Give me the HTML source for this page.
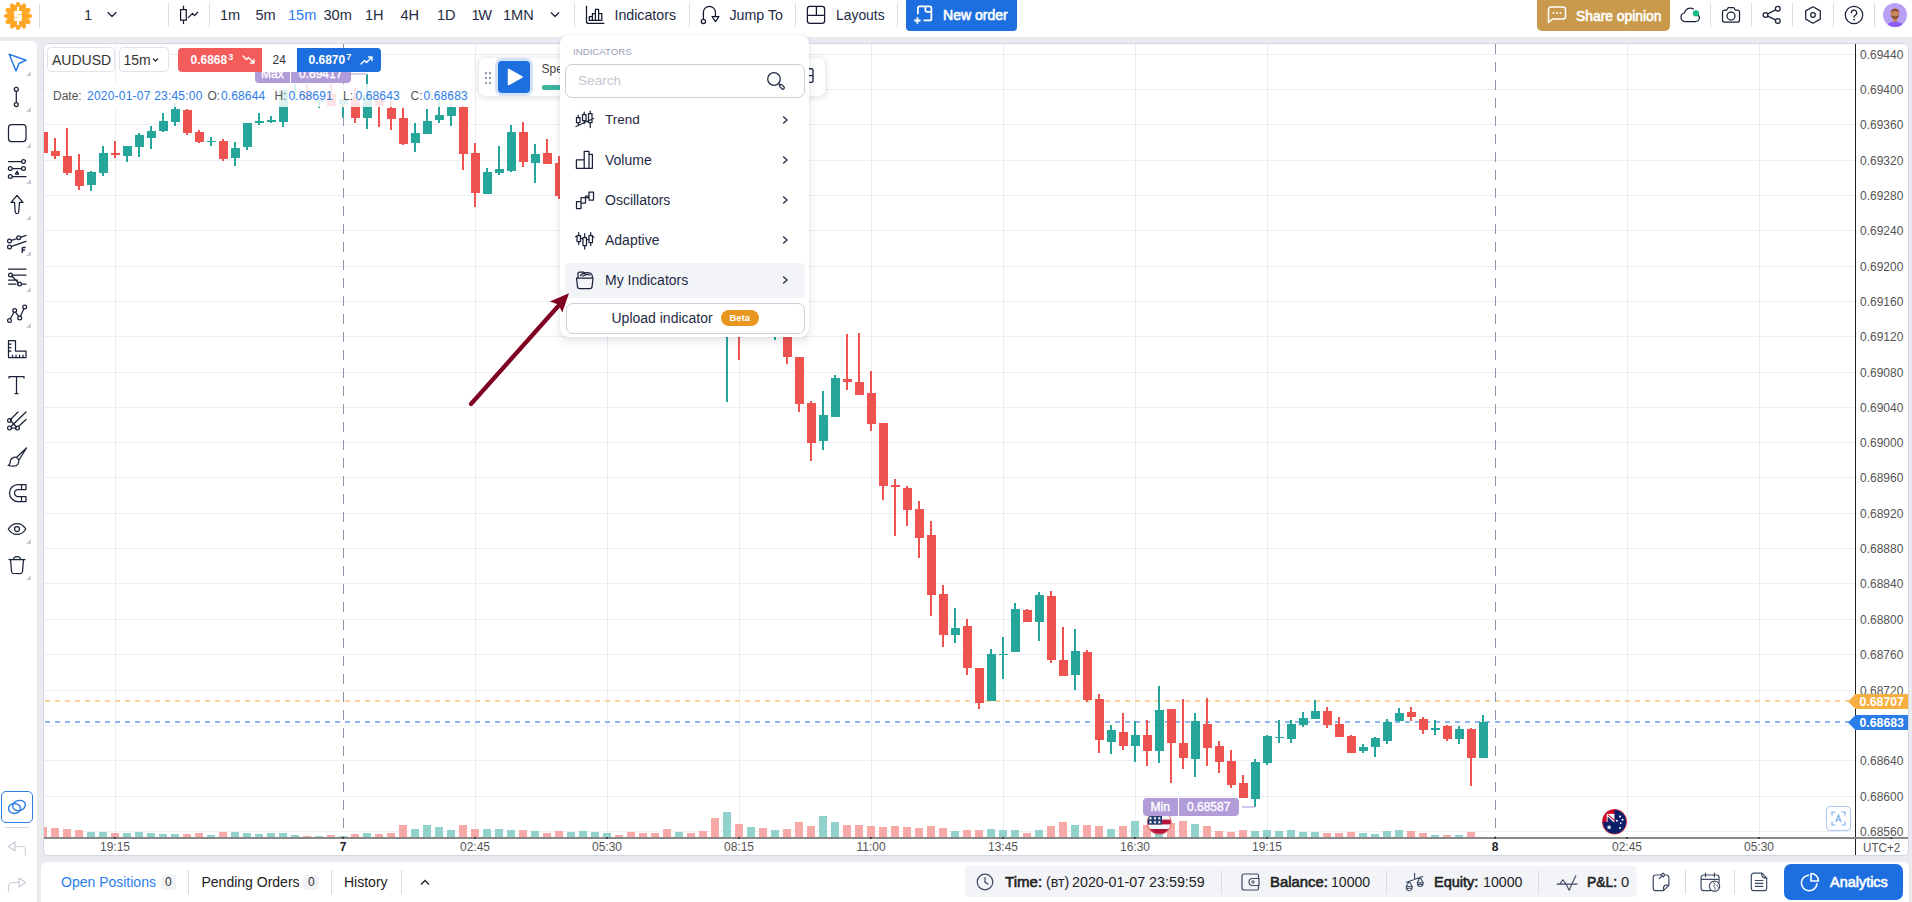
<!DOCTYPE html>
<html><head><meta charset="utf-8"><title>Chart</title>
<style>
*{box-sizing:border-box;margin:0;padding:0}
html,body{width:1912px;height:902px;overflow:hidden}
body{background:#e9ebf1;font-family:"Liberation Sans",sans-serif;color:#1f2a44;position:relative;font-size:14px}
.abs{position:absolute}
.t{position:absolute;white-space:nowrap;line-height:1}
.dv{position:absolute;width:1px;background:#d9dce4}
svg{position:absolute;overflow:visible}
.ic{fill:none;stroke:#1a2238;stroke-width:1.25;stroke-linecap:round;stroke-linejoin:round}
#top{position:absolute;left:0;top:0;width:1912px;height:37px;background:#fff}
#top .t{top:8px;font-size:14.6px;color:#1f2a44}
#side{position:absolute;left:0;top:41px;width:37px;height:861px;background:#fff;border-top-right-radius:6px}
#chart{position:absolute;left:43px;top:43px;width:1866px;height:813px;background:#fff;border-radius:5px;border:1px solid #d3d8e3}
#bottom{position:absolute;left:41px;top:862px;width:1867.500px;height:40px;background:#fff;border-radius:6px 6px 0 0}
.pl{position:absolute;left:1860px;font-size:12px;line-height:14px;color:#555;white-space:nowrap}
.tl{position:absolute;top:840px;width:60px;text-align:center;font-size:12px;line-height:14px;color:#555;white-space:nowrap}
.corner{position:absolute;left:26px;width:0;height:0;border-style:solid;border-width:0 0 5.5px 5.5px;border-color:transparent transparent #c9cdd8 transparent}
.mi{position:absolute;left:605px;font-size:14px;color:#1f2a44;line-height:16px;white-space:nowrap}
.chev{position:absolute;left:781px}
</style></head><body>

<!-- ================= TOP BAR ================= -->
<div id="top">
  <!-- logo -->
  <svg style="left:3px;top:1px" width="30" height="30" viewBox="-15 -15 30 30">
    <g fill="#ffa726" stroke="#ffa726" stroke-width=".9" stroke-linejoin="round">
      <circle r="10.6"></circle>
      <path transform="rotate(0)" d="M-2.300 -10.300L-1.100 -13.500H1.100L2.300 -10.300z"></path><path transform="rotate(30)" d="M-2.300 -10.300L-1.100 -13.500H1.100L2.300 -10.300z"></path><path transform="rotate(60)" d="M-2.300 -10.300L-1.100 -13.500H1.100L2.300 -10.300z"></path><path transform="rotate(90)" d="M-2.300 -10.300L-1.100 -13.500H1.100L2.300 -10.300z"></path><path transform="rotate(120)" d="M-2.300 -10.300L-1.100 -13.500H1.100L2.300 -10.300z"></path><path transform="rotate(150)" d="M-2.300 -10.300L-1.100 -13.500H1.100L2.300 -10.300z"></path><path transform="rotate(180)" d="M-2.300 -10.300L-1.100 -13.500H1.100L2.300 -10.300z"></path><path transform="rotate(210)" d="M-2.300 -10.300L-1.100 -13.500H1.100L2.300 -10.300z"></path><path transform="rotate(240)" d="M-2.300 -10.300L-1.100 -13.500H1.100L2.300 -10.300z"></path><path transform="rotate(270)" d="M-2.300 -10.300L-1.100 -13.500H1.100L2.300 -10.300z"></path><path transform="rotate(300)" d="M-2.300 -10.300L-1.100 -13.500H1.100L2.300 -10.300z"></path><path transform="rotate(330)" d="M-2.300 -10.300L-1.100 -13.500H1.100L2.300 -10.300z"></path>
    </g>
    <rect x="-3.800" y="-5" width="7.600" height="9.900" fill="#fff"></rect>
    <rect x="-1" y="-9.300" width="2" height="18.300" fill="#fff"></rect>
    <rect x=".1" y="-2" width="3.700" height=".7" fill="#ffa726"></rect>
    <rect x="-3.800" y="1.200" width="3.700" height=".7" fill="#ffa726"></rect>
  </svg>
  <div class="dv" style="left:39px;top:4px;height:24px"></div>
  <div class="t" style="left:84px">1</div>
  <svg style="left:107px;top:11px" width="10" height="8" viewBox="0 0 10 8"><path class="ic" d="M1 1.5L5 5.5L9 1.5"></path></svg>
  <div class="dv" style="left:168px;top:3px;height:24px"></div>
  <!-- candle type icon -->
  <svg style="left:178px;top:4px" width="22" height="24" viewBox="0 0 22 24"><path d="M2.600 5.500h5.700v10.700h-5.700zM5.500 2.200v3.300M5.500 16.200v3.400M10.300 13.600l4.200-4.300 2 2.300 3.200-3.300" fill="none" stroke="#141a2e" stroke-width="1.250" stroke-linecap="round" stroke-linejoin="miter"></path></svg>
  <div class="dv" style="left:209px;top:3px;height:24px"></div>
  <div class="t" style="left:220px">1m</div>
  <div class="t" style="left:255.500px">5m</div>
  <div class="t" style="left:288px;color:#2b7de9">15m</div>
  <div class="t" style="left:323.500px">30m</div>
  <div class="t" style="left:365px">1H</div>
  <div class="t" style="left:400.500px">4H</div>
  <div class="t" style="left:437px">1D</div>
  <div class="t" style="left:471.500px;letter-spacing:-1.3px">1W</div>
  <div class="t" style="left:503px">1MN</div>
  <svg style="left:550px;top:11px" width="10" height="8" viewBox="0 0 10 8"><path class="ic" d="M1.200 1.800L5 5.500L8.800 1.800"></path></svg>
  <div class="dv" style="left:574px;top:3px;height:24px"></div>
  <!-- indicators icon -->
  <svg style="left:585px;top:5px" width="20" height="20" viewBox="0 0 20 20"><path d="M1.500 1.200v15.200a2 2 0 0 0 2 2h15.300M4.300 15.400v-3.900h3.100v3.900zM7.400 11.500v-3h3v6.900h-3M10.400 8.500v-4.100h3.200v11h-3.200M13.600 8.500h3.200v6.900h-3.200" fill="none" stroke="#141a2e" stroke-width="1.250" stroke-linecap="round" stroke-linejoin="round"></path></svg>
  <div class="t" style="left:614.500px;font-size:14.2px;top:8.4px">Indicators</div>
  <div class="dv" style="left:689px;top:3px;height:24px"></div>
  <!-- jump icon -->
  <svg style="left:699px;top:4px" width="22" height="22" viewBox="0 0 22 22"><path d="M4.400 15.100v-6.700a6 6 0 0 1 12 0v3.900M13 12.500h7l-3.500 5.100z" fill="none" stroke="#141a2e" stroke-width="1.250" stroke-linejoin="round"></path><circle cx="4.400" cy="17.500" r="2.100" fill="none" stroke="#141a2e" stroke-width="1.250"></circle></svg>
  <div class="t" style="left:729.500px;font-size:14.2px;top:8.4px">Jump To</div>
  <div class="dv" style="left:795px;top:3px;height:24px"></div>
  <!-- layouts icon -->
  <svg style="left:806px;top:5px" width="20" height="20" viewBox="0 0 20 20"><rect x="1.400" y="1.400" width="17.200" height="17" rx="2.600" fill="none" stroke="#141a2e" stroke-width="1.250"></rect><path d="M1.400 10.400h17.200M10.400 1.400v9" fill="none" stroke="#141a2e" stroke-width="1.250"></path></svg>
  <div class="t" style="left:836px;font-size:13.9px;top:8.6px">Layouts</div>
  <div class="dv" style="left:897px;top:3px;height:24px"></div>
  <!-- new order -->
  <div class="abs" style="left:906px;top:0;width:111px;height:31px;background:#1d6fe0;border-radius:0 0 4px 4px"></div>
  <svg style="left:913px;top:5px" width="20" height="20" viewBox="0 0 20 20"><path d="M4.900 9.300v-6.300a1.700 1.700 0 0 1 1.700-1.700h10.100a1.700 1.700 0 0 1 1.700 1.700v10.700a1.700 1.700 0 0 1 -1.700 1.700h-6.200M12.400 1.500v3.700a1.700 1.700 0 0 0 1.700 1.700h4M1.200 15.500h6.400M4.400 12.300v6.400" fill="none" stroke="#fff" stroke-width="1.800" stroke-linejoin="round"></path></svg>
  <div class="t" style="color: rgb(255, 255, 255); -webkit-text-stroke: 0.6px rgb(255, 255, 255); font-size: 14.2px; top: 7.6px; left: 942.99px; transform: scaleX(0.9888); transform-origin: 0px 0px;">New order</div>
  <!-- share opinion -->
  <div class="abs" style="left:1537px;top:0;width:133px;height:31px;background:#c99a4c;border-radius:0 0 5px 5px"></div>
  <svg style="left:1547px;top:5px" width="20" height="20" viewBox="0 0 20 20"><path d="M1.500 17.500v-13a2.500 2.500 0 0 1 2.500-2.500h12a2.500 2.500 0 0 1 2.500 2.500v7a2.500 2.500 0 0 1 -2.500 2.500h-10.500z" fill="none" stroke="#fff" stroke-width="1.500" stroke-linejoin="round"></path><g fill="#fff"><circle cx="6.500" cy="8" r="1"></circle><circle cx="10" cy="8" r="1"></circle><circle cx="13.500" cy="8" r="1"></circle></g></svg>
  <div class="t" style="color: rgb(255, 255, 255); -webkit-text-stroke: 0.6px rgb(255, 255, 255); font-size: 14.2px; top: 8.6px; left: 1576.29px; transform: scaleX(0.9755); transform-origin: 0px 0px;">Share opinion</div>
  <!-- cloud -->
  <svg style="left:1679px;top:5px" width="22" height="20" viewBox="0 0 22 20"><path class="ic" d="M6 16.500a4.300 4.300 0 0 1 -.6 -8.500a6 6 0 0 1 9 -4M19.300 10.300a3.600 3.600 0 0 1 -2.300 6.200h-11"></path><circle cx="17" cy="8.300" r="3.100" fill="#10b981"></circle></svg>
  <div class="dv" style="left:1710px;top:3px;height:24px"></div>
  <!-- camera -->
  <svg style="left:1721px;top:5px" width="20" height="20" viewBox="0 0 20 20"><path class="ic" d="M1.500 7a2 2 0 0 1 2-2h2.300l1.500-2.500h5.400l1.500 2.500h2.300a2 2 0 0 1 2 2v8a2 2 0 0 1 -2 2h-13a2 2 0 0 1 -2-2z"></path><circle class="ic" cx="10" cy="11" r="4"></circle></svg>
  <div class="dv" style="left:1751px;top:3px;height:24px"></div>
  <!-- share -->
  <svg style="left:1762px;top:5px" width="20" height="20" viewBox="0 0 20 20"><path class="ic" d="M5.700 8.900l7.900-4M5.700 11.100l7.900 3.800"></path><circle class="ic" cx="15.800" cy="3.800" r="2.400"></circle><circle class="ic" cx="3.500" cy="10" r="2.400"></circle><circle class="ic" cx="15.800" cy="15.900" r="2.400"></circle></svg>
  <div class="dv" style="left:1792px;top:3px;height:24px"></div>
  <!-- hexagon -->
  <svg style="left:1803px;top:5px" width="20" height="20" viewBox="0 0 20 20"><path class="ic" d="M10 1.800l7.300 4.100v8.200l-7.300 4.100l-7.300-4.100v-8.200z"></path><circle class="ic" cx="10" cy="10" r="2.300"></circle></svg>
  <div class="dv" style="left:1833px;top:3px;height:24px"></div>
  <!-- help -->
  <svg style="left:1844px;top:5px" width="20" height="20" viewBox="0 0 20 20"><circle class="ic" cx="10" cy="10" r="8.700"></circle><path class="ic" d="M7.300 7.800a2.700 2.700 0 1 1 4 2.400c-.9.500-1.300 1-1.300 2"></path><circle cx="10" cy="14.600" r=".9" fill="#1f2a44"></circle></svg>
  <div class="dv" style="left:1874px;top:3px;height:24px"></div>
  <!-- avatar -->
  <svg style="left:1883px;top:3px" width="24" height="24" viewBox="0 0 24 24"><defs><clipPath id="av"><circle cx="12" cy="12" r="12"></circle></clipPath></defs><g clip-path="url(#av)"><rect width="24" height="24" fill="#b8a1f5"></rect><ellipse cx="12" cy="24" rx="8.500" ry="5.500" fill="#8b5cf6"></ellipse><rect x="10" y="14" width="4" height="5" fill="#c68863"></rect><ellipse cx="12" cy="10.500" rx="4.300" ry="5.300" fill="#c68863"></ellipse><path d="M7.700 9.500c0-5 8.600-5 8.600 0c-1.500-2-7-2-8.600 0z" fill="#8a4b2a"></path><path d="M8 11.500c0 6 8 6 8 0c-1 2.500-7 2.500-8 0z" fill="#8a4b2a"></path></g></svg>
</div>

<!-- ================= SIDEBAR ================= -->
<div id="side">
  <!-- y offsets relative to side top (41) -->
  <svg style="left:6px;top:10px" width="24" height="24" viewBox="0 0 24 24"><path d="M3.200 3.200L20 9.200L13 12.500L10 20z" fill="none" stroke="#2b7de9" stroke-width="1.500" stroke-linejoin="round"></path></svg>
  <div class="corner" style="top:30px"></div>
  <svg style="left:6px;top:44px" width="24" height="24" viewBox="0 0 24 24"><path class="ic" d="M10.300 6.500v11"></path><circle class="ic" cx="10.300" cy="4.300" r="2"></circle><circle class="ic" cx="10.300" cy="19.500" r="2"></circle></svg>
  <div class="corner" style="top:66px"></div>
  <svg style="left:6px;top:80px" width="24" height="24" viewBox="0 0 24 24"><rect class="ic" x="2.500" y="3.500" width="17.500" height="17" rx="3"></rect></svg>
  <div class="corner" style="top:102px"></div>
  <svg style="left:6px;top:116px" width="24" height="24" viewBox="0 0 24 24"><path class="ic" d="M2.500 4.500h12.500M6.500 11.500h9M6.500 19.500h13.500M9.500 17l1.600-2.600 1.600 2.600z"></path><circle class="ic" cx="17.500" cy="4.500" r="1.900"></circle><circle class="ic" cx="4.300" cy="11.500" r="1.900"></circle><circle class="ic" cx="17.500" cy="11.500" r="1.900"></circle><circle class="ic" cx="4.300" cy="19.500" r="1.900"></circle></svg>
  <div class="corner" style="top:138px"></div>
  <svg style="left:6px;top:152px" width="24" height="24" viewBox="0 0 24 24"><path class="ic" d="M11 2.500l6 6.800h-3.500l-.7 9.500a1.800 1.800 0 0 1 -3.600 0l-.7-9.500h-3.500z"></path></svg>
  <div class="corner" style="top:174px"></div>
  <svg style="left:6px;top:188px" width="24" height="24" viewBox="0 0 24 24"><path class="ic" d="M5.500 11.300l5.500-1.800M14.500 8.300l5.500-2M5.500 17.300l14.500-5"></path><circle class="ic" cx="3.500" cy="12" r="1.900"></circle><circle class="ic" cx="12.700" cy="8.800" r="1.900"></circle><circle class="ic" cx="3.500" cy="18" r="1.900"></circle><path d="M16.300 18.500v5.500M16.300 18.500h3.400M16.300 21h2.600" fill="none" stroke="#1f2a44" stroke-width="1.500"></path></svg>
  <div class="corner" style="top:210px"></div>
  <svg style="left:6px;top:224px" width="24" height="24" viewBox="0 0 24 24"><path class="ic" d="M2.500 4h17.500M6.500 10h13.500M2.500 15h9M2.500 19h7.500M15.500 19h4.500M5.800 11l6.700 7"></path><circle class="ic" cx="4.500" cy="10" r="1.900"></circle><circle class="ic" cx="13.500" cy="19" r="1.900"></circle></svg>
  <div class="corner" style="top:246px"></div>
  <svg style="left:6px;top:260px" width="24" height="24" viewBox="0 0 24 24"><path class="ic" d="M4.500 17.500l3.500-6.500M9.800 11.500l3 4M14.500 15l3.300-7"></path><circle class="ic" cx="3.500" cy="19.500" r="1.900"></circle><circle class="ic" cx="8.700" cy="9.500" r="1.900"></circle><circle class="ic" cx="13.700" cy="17" r="1.900"></circle><circle class="ic" cx="18.700" cy="6" r="1.900"></circle></svg>
  <div class="corner" style="top:282px"></div>
  <!-- ruler -->
  <svg style="left:6px;top:296px" width="24" height="24" viewBox="0 0 24 24"><path class="ic" d="M2.500 3.500h7v10.500h10.500v6.500h-17.500zM2.500 7h2.500M2.500 10.500h2.500M2.500 14h2.500M6.500 20.500v-2.500M10 20.500v-2.500M13.500 20.500v-2.500M17 20.500v-2.500"></path></svg>
  <!-- T -->
  <svg style="left:6px;top:332px" width="24" height="24" viewBox="0 0 24 24"><path class="ic" d="M3 5v-1.500h15v1.500M10.500 3.500v17M9 20.500h3"></path></svg>
  <!-- fan -->
  <svg style="left:6px;top:368px" width="24" height="24" viewBox="0 0 24 24"><path class="ic" d="M4.500 10.500l7.500-7.500M5 17.500l15-14.500M4.500 11.500l6 6.500M5.500 19h4.500M12.500 17.500l7.500-7"></path><circle class="ic" cx="3.500" cy="11.500" r="1.900"></circle><circle class="ic" cx="3.500" cy="19" r="1.900"></circle><circle class="ic" cx="11.500" cy="19" r="1.900"></circle></svg>
  <!-- brush -->
  <svg style="left:6px;top:404px" width="24" height="24" viewBox="0 0 24 24"><path class="ic" d="M20.500 3l-10 9.500M20.500 3l-7.500 12M2 20.500c2.500-.5 2-3 2.500-5s3.500-4 6-3 3 4 1.500 6.500-6 2.500-10 1.500z"></path></svg>
  <!-- magnet -->
  <svg style="left:6px;top:440px" width="24" height="24" viewBox="0 0 24 24"><path class="ic" d="M20 3.500h-8a8.500 8.500 0 0 0 0 17h8v-5h-8a3.500 3.500 0 0 1 0-7h8zM15.500 3.500v5M15.500 15.500v5"></path></svg>
  <!-- eye -->
  <svg style="left:6px;top:476px" width="24" height="24" viewBox="0 0 24 24"><path class="ic" d="M2.300 12c4.500-7.300 13-7.300 17.500 0c-4.500 7.300-13 7.300-17.500 0z"></path><circle class="ic" cx="11" cy="12" r="2.500"></circle></svg>
  <div class="corner" style="top:498px"></div>
  <!-- trash -->
  <svg style="left:6px;top:512px" width="24" height="24" viewBox="0 0 24 24"><path class="ic" d="M3 6.500h16M7.500 6.500c0-4 7-4 7 0M4.500 6.500l1 12a2.500 2.500 0 0 0 2.500 2h6a2.500 2.500 0 0 0 2.500-2l1-12"></path></svg>
  <div class="corner" style="top:534px"></div>
  <!-- link box -->
  <div class="abs" style="left:1px;top:750px;width:32px;height:32px;border:1.500px solid #2b7de9;border-radius:5px"></div>
  <svg style="left:5px;top:754px" width="24" height="24" viewBox="0 0 24 24"><ellipse cx="9.500" cy="13.500" rx="6" ry="5" fill="none" stroke="#2b7de9" stroke-width="1.400"></ellipse><ellipse cx="14" cy="10.500" rx="6.500" ry="5" fill="none" stroke="#2b7de9" stroke-width="1.400" transform="rotate(-15 14 10.500)"></ellipse></svg>
  <div class="abs" style="left:5px;top:786px;width:24px;height:1px;background:#d3d7e0"></div>
  <!-- undo / redo -->
  <svg style="left:5px;top:796.800px" width="24" height="24" viewBox="0 0 24 24"><path d="M3.500 8.500l6.500-4.500v9zM10 8.500h6.500a4 4 0 0 1 4 4v5" fill="none" stroke="#c9cdd6" stroke-width="1.200" stroke-linejoin="round"></path></svg>
  <svg style="left:5px;top:832.700px" width="24" height="24" viewBox="0 0 24 24"><path d="M20.500 8.500l-6.500-4.500v9zM14 8.500h-6.500a4 4 0 0 0 -4 4v5" fill="none" stroke="#c9cdd6" stroke-width="1.200" stroke-linejoin="round"></path></svg>
</div>

<!-- ================= CHART ================= -->
<div id="chart"></div>
<svg style="left:0;top:0" width="1912" height="902" viewBox="0 0 1912 902" shape-rendering="crispEdges">
<defs><clipPath id="cc"><rect x="44" y="44" width="1811.500" height="794"></rect></clipPath></defs>
<g clip-path="url(#cc)">
<rect x="44" y="54" width="1811" height="1" fill="#eceef3"></rect>
<rect x="44" y="89" width="1811" height="1" fill="#eceef3"></rect>
<rect x="44" y="124" width="1811" height="1" fill="#eceef3"></rect>
<rect x="44" y="160" width="1811" height="1" fill="#eceef3"></rect>
<rect x="44" y="195" width="1811" height="1" fill="#eceef3"></rect>
<rect x="44" y="230" width="1811" height="1" fill="#eceef3"></rect>
<rect x="44" y="266" width="1811" height="1" fill="#eceef3"></rect>
<rect x="44" y="301" width="1811" height="1" fill="#eceef3"></rect>
<rect x="44" y="336" width="1811" height="1" fill="#eceef3"></rect>
<rect x="44" y="372" width="1811" height="1" fill="#eceef3"></rect>
<rect x="44" y="407" width="1811" height="1" fill="#eceef3"></rect>
<rect x="44" y="442" width="1811" height="1" fill="#eceef3"></rect>
<rect x="44" y="477" width="1811" height="1" fill="#eceef3"></rect>
<rect x="44" y="513" width="1811" height="1" fill="#eceef3"></rect>
<rect x="44" y="548" width="1811" height="1" fill="#eceef3"></rect>
<rect x="44" y="583" width="1811" height="1" fill="#eceef3"></rect>
<rect x="44" y="619" width="1811" height="1" fill="#eceef3"></rect>
<rect x="44" y="654" width="1811" height="1" fill="#eceef3"></rect>
<rect x="44" y="690" width="1811" height="1" fill="#eceef3"></rect>
<rect x="44" y="725" width="1811" height="1" fill="#eceef3"></rect>
<rect x="44" y="760" width="1811" height="1" fill="#eceef3"></rect>
<rect x="44" y="796" width="1811" height="1" fill="#eceef3"></rect>
<rect x="44" y="831" width="1811" height="1" fill="#eceef3"></rect>
<rect x="115" y="44" width="1" height="793" fill="#eceef3"></rect>
<rect x="475" y="44" width="1" height="793" fill="#eceef3"></rect>
<rect x="607" y="44" width="1" height="793" fill="#eceef3"></rect>
<rect x="739" y="44" width="1" height="793" fill="#eceef3"></rect>
<rect x="871" y="44" width="1" height="793" fill="#eceef3"></rect>
<rect x="1003" y="44" width="1" height="793" fill="#eceef3"></rect>
<rect x="1135" y="44" width="1" height="793" fill="#eceef3"></rect>
<rect x="1267" y="44" width="1" height="793" fill="#eceef3"></rect>
<rect x="1627" y="44" width="1" height="793" fill="#eceef3"></rect>
<rect x="1759" y="44" width="1" height="793" fill="#eceef3"></rect>
<path d="M44.5 701H1856" stroke="#f9d29c" stroke-width="2" stroke-dasharray="5 5" fill="none"></path>
<path d="M44.5 722H1856" stroke="#8cb6f6" stroke-width="2" stroke-dasharray="5 5" fill="none"></path>
<rect x="44" y="827" width="3" height="10" fill="#f7a9a7"></rect>
<rect x="51" y="828" width="8" height="9" fill="#f7a9a7"></rect>
<rect x="63" y="829" width="8" height="8" fill="#f7a9a7"></rect>
<rect x="75" y="830" width="8" height="7" fill="#f7a9a7"></rect>
<rect x="87" y="832" width="8" height="5" fill="#92d2cc"></rect>
<rect x="99" y="831.5" width="8" height="5.5" fill="#92d2cc"></rect>
<rect x="111" y="833" width="8" height="4" fill="#f7a9a7"></rect>
<rect x="123" y="833" width="8" height="4" fill="#92d2cc"></rect>
<rect x="135" y="831.5" width="8" height="5.5" fill="#92d2cc"></rect>
<rect x="147" y="832.5" width="8" height="4.5" fill="#92d2cc"></rect>
<rect x="159" y="834" width="8" height="3" fill="#92d2cc"></rect>
<rect x="171" y="834" width="8" height="3" fill="#92d2cc"></rect>
<rect x="183" y="834" width="8" height="3" fill="#f7a9a7"></rect>
<rect x="195" y="833" width="8" height="4" fill="#f7a9a7"></rect>
<rect x="207" y="835" width="8" height="2" fill="#92d2cc"></rect>
<rect x="219" y="832" width="8" height="5" fill="#f7a9a7"></rect>
<rect x="231" y="832" width="8" height="5" fill="#92d2cc"></rect>
<rect x="243" y="833" width="8" height="4" fill="#92d2cc"></rect>
<rect x="255" y="834" width="8" height="3" fill="#92d2cc"></rect>
<rect x="267" y="832.5" width="8" height="4.5" fill="#92d2cc"></rect>
<rect x="279" y="833" width="8" height="4" fill="#92d2cc"></rect>
<rect x="291" y="835" width="8" height="2" fill="#92d2cc"></rect>
<rect x="303" y="836" width="8" height="1" fill="#f7a9a7"></rect>
<rect x="315" y="835.5" width="8" height="1.5" fill="#92d2cc"></rect>
<rect x="327" y="835" width="8" height="2" fill="#f7a9a7"></rect>
<rect x="339" y="835.5" width="8" height="1.5" fill="#92d2cc"></rect>
<rect x="351" y="834" width="8" height="3" fill="#f7a9a7"></rect>
<rect x="363" y="833" width="8" height="4" fill="#92d2cc"></rect>
<rect x="375" y="834" width="8" height="3" fill="#f7a9a7"></rect>
<rect x="387" y="832.5" width="8" height="4.5" fill="#f7a9a7"></rect>
<rect x="399" y="824.5" width="8" height="12.5" fill="#f7a9a7"></rect>
<rect x="411" y="828.5" width="8" height="8.5" fill="#92d2cc"></rect>
<rect x="423" y="824.5" width="8" height="12.5" fill="#92d2cc"></rect>
<rect x="435" y="827" width="8" height="10" fill="#92d2cc"></rect>
<rect x="447" y="829.5" width="8" height="7.5" fill="#92d2cc"></rect>
<rect x="459" y="825" width="8" height="12" fill="#f7a9a7"></rect>
<rect x="471" y="829" width="8" height="8" fill="#f7a9a7"></rect>
<rect x="483" y="829" width="8" height="8" fill="#92d2cc"></rect>
<rect x="495" y="829" width="8" height="8" fill="#92d2cc"></rect>
<rect x="507" y="830" width="8" height="7" fill="#92d2cc"></rect>
<rect x="519" y="830" width="8" height="7" fill="#f7a9a7"></rect>
<rect x="531" y="830.5" width="8" height="6.5" fill="#92d2cc"></rect>
<rect x="543" y="832.5" width="8" height="4.5" fill="#f7a9a7"></rect>
<rect x="555" y="831" width="8" height="6" fill="#f7a9a7"></rect>
<rect x="567" y="832" width="8" height="5" fill="#92d2cc"></rect>
<rect x="579" y="831" width="8" height="6" fill="#92d2cc"></rect>
<rect x="591" y="831.5" width="8" height="5.5" fill="#92d2cc"></rect>
<rect x="603" y="833" width="8" height="4" fill="#92d2cc"></rect>
<rect x="615" y="835" width="8" height="2" fill="#f7a9a7"></rect>
<rect x="627" y="832" width="8" height="5" fill="#f7a9a7"></rect>
<rect x="639" y="833" width="8" height="4" fill="#f7a9a7"></rect>
<rect x="651" y="832.5" width="8" height="4.5" fill="#f7a9a7"></rect>
<rect x="663" y="829" width="8" height="8" fill="#f7a9a7"></rect>
<rect x="675" y="832" width="8" height="5" fill="#92d2cc"></rect>
<rect x="687" y="833" width="8" height="4" fill="#f7a9a7"></rect>
<rect x="699" y="831" width="8" height="6" fill="#f7a9a7"></rect>
<rect x="711" y="818" width="8" height="19" fill="#f7a9a7"></rect>
<rect x="723" y="812" width="8" height="25" fill="#92d2cc"></rect>
<rect x="735" y="824" width="8" height="13" fill="#f7a9a7"></rect>
<rect x="747" y="827" width="8" height="10" fill="#92d2cc"></rect>
<rect x="759" y="828" width="8" height="9" fill="#f7a9a7"></rect>
<rect x="771" y="830" width="8" height="7" fill="#92d2cc"></rect>
<rect x="783" y="829" width="8" height="8" fill="#f7a9a7"></rect>
<rect x="795" y="822" width="8" height="15" fill="#f7a9a7"></rect>
<rect x="807" y="826" width="8" height="11" fill="#f7a9a7"></rect>
<rect x="819" y="816" width="8" height="21" fill="#92d2cc"></rect>
<rect x="831" y="822" width="8" height="15" fill="#92d2cc"></rect>
<rect x="843" y="824.5" width="8" height="12.5" fill="#f7a9a7"></rect>
<rect x="855" y="825" width="8" height="12" fill="#f7a9a7"></rect>
<rect x="867" y="826" width="8" height="11" fill="#f7a9a7"></rect>
<rect x="879" y="826.5" width="8" height="10.5" fill="#f7a9a7"></rect>
<rect x="891" y="826" width="8" height="11" fill="#f7a9a7"></rect>
<rect x="903" y="827" width="8" height="10" fill="#f7a9a7"></rect>
<rect x="915" y="828" width="8" height="9" fill="#f7a9a7"></rect>
<rect x="927" y="825.5" width="8" height="11.5" fill="#f7a9a7"></rect>
<rect x="939" y="828" width="8" height="9" fill="#f7a9a7"></rect>
<rect x="951" y="831" width="8" height="6" fill="#92d2cc"></rect>
<rect x="963" y="830" width="8" height="7" fill="#f7a9a7"></rect>
<rect x="975" y="830" width="8" height="7" fill="#f7a9a7"></rect>
<rect x="987" y="829" width="8" height="8" fill="#92d2cc"></rect>
<rect x="999" y="830" width="8" height="7" fill="#92d2cc"></rect>
<rect x="1011" y="830" width="8" height="7" fill="#92d2cc"></rect>
<rect x="1023" y="832.5" width="8" height="4.5" fill="#f7a9a7"></rect>
<rect x="1035" y="830" width="8" height="7" fill="#92d2cc"></rect>
<rect x="1047" y="825.5" width="8" height="11.5" fill="#f7a9a7"></rect>
<rect x="1059" y="822" width="8" height="15" fill="#f7a9a7"></rect>
<rect x="1071" y="825" width="8" height="12" fill="#92d2cc"></rect>
<rect x="1083" y="825" width="8" height="12" fill="#f7a9a7"></rect>
<rect x="1095" y="826" width="8" height="11" fill="#f7a9a7"></rect>
<rect x="1107" y="829" width="8" height="8" fill="#92d2cc"></rect>
<rect x="1119" y="826" width="8" height="11" fill="#f7a9a7"></rect>
<rect x="1131" y="821" width="8" height="16" fill="#92d2cc"></rect>
<rect x="1143" y="825" width="8" height="12" fill="#f7a9a7"></rect>
<rect x="1155" y="823" width="8" height="14" fill="#92d2cc"></rect>
<rect x="1167" y="823" width="8" height="14" fill="#f7a9a7"></rect>
<rect x="1179" y="821" width="8" height="16" fill="#f7a9a7"></rect>
<rect x="1191" y="824" width="8" height="13" fill="#92d2cc"></rect>
<rect x="1203" y="826" width="8" height="11" fill="#f7a9a7"></rect>
<rect x="1215" y="831" width="8" height="6" fill="#f7a9a7"></rect>
<rect x="1227" y="832" width="8" height="5" fill="#f7a9a7"></rect>
<rect x="1239" y="830" width="8" height="7" fill="#f7a9a7"></rect>
<rect x="1251" y="831" width="8" height="6" fill="#92d2cc"></rect>
<rect x="1263" y="830" width="8" height="7" fill="#92d2cc"></rect>
<rect x="1275" y="831" width="8" height="6" fill="#92d2cc"></rect>
<rect x="1287" y="830" width="8" height="7" fill="#92d2cc"></rect>
<rect x="1299" y="832" width="8" height="5" fill="#92d2cc"></rect>
<rect x="1311" y="832" width="8" height="5" fill="#92d2cc"></rect>
<rect x="1323" y="833" width="8" height="4" fill="#f7a9a7"></rect>
<rect x="1335" y="833" width="8" height="4" fill="#f7a9a7"></rect>
<rect x="1347" y="832" width="8" height="5" fill="#f7a9a7"></rect>
<rect x="1359" y="833" width="8" height="4" fill="#92d2cc"></rect>
<rect x="1371" y="833.5" width="8" height="3.5" fill="#92d2cc"></rect>
<rect x="1383" y="830.5" width="8" height="6.5" fill="#92d2cc"></rect>
<rect x="1395" y="830" width="8" height="7" fill="#92d2cc"></rect>
<rect x="1407" y="831" width="8" height="6" fill="#f7a9a7"></rect>
<rect x="1419" y="833" width="8" height="4" fill="#f7a9a7"></rect>
<rect x="1431" y="835" width="8" height="2" fill="#92d2cc"></rect>
<rect x="1443" y="835" width="8" height="2" fill="#f7a9a7"></rect>
<rect x="1455" y="835" width="8" height="2" fill="#92d2cc"></rect>
<rect x="1467" y="831.5" width="8" height="5.5" fill="#f7a9a7"></rect>
<rect x="44" y="132.1" width="4" height="20.7" fill="#ef5350"></rect>
<rect x="54" y="138" width="2" height="20.9" fill="#ef5350"></rect>
<rect x="51" y="151.1" width="9" height="4.6" fill="#ef5350"></rect>
<rect x="66" y="128.1" width="2" height="46.9" fill="#ef5350"></rect>
<rect x="63" y="156" width="9" height="17" fill="#ef5350"></rect>
<rect x="78" y="154" width="2" height="35.9" fill="#ef5350"></rect>
<rect x="75" y="170" width="9" height="15.8" fill="#ef5350"></rect>
<rect x="90" y="171" width="2" height="19.9" fill="#26a69a"></rect>
<rect x="87" y="171.9" width="9" height="12.9" fill="#26a69a"></rect>
<rect x="102" y="145.9" width="2" height="30" fill="#26a69a"></rect>
<rect x="99" y="153" width="9" height="19.9" fill="#26a69a"></rect>
<rect x="114" y="140.9" width="2" height="17" fill="#ef5350"></rect>
<rect x="111" y="153" width="9" height="1.9" fill="#ef5350"></rect>
<rect x="126" y="145.9" width="2" height="15.9" fill="#26a69a"></rect>
<rect x="123" y="145.9" width="9" height="10" fill="#26a69a"></rect>
<rect x="138" y="133" width="2" height="24" fill="#26a69a"></rect>
<rect x="135" y="135" width="9" height="11.9" fill="#26a69a"></rect>
<rect x="150" y="126" width="2" height="23" fill="#26a69a"></rect>
<rect x="147" y="131.1" width="9" height="6.8" fill="#26a69a"></rect>
<rect x="162" y="113.1" width="2" height="18.9" fill="#26a69a"></rect>
<rect x="159" y="121" width="9" height="9.9" fill="#26a69a"></rect>
<rect x="174" y="103" width="2" height="22.9" fill="#26a69a"></rect>
<rect x="171" y="109" width="9" height="13" fill="#26a69a"></rect>
<rect x="186" y="108.9" width="2" height="26.1" fill="#ef5350"></rect>
<rect x="183" y="110" width="9" height="23" fill="#ef5350"></rect>
<rect x="198" y="130" width="2" height="12.9" fill="#ef5350"></rect>
<rect x="195" y="132" width="9" height="9.9" fill="#ef5350"></rect>
<rect x="210" y="137" width="2" height="9" fill="#26a69a"></rect>
<rect x="207" y="140.6" width="9" height="1.6" fill="#26a69a"></rect>
<rect x="222" y="139" width="2" height="21.9" fill="#ef5350"></rect>
<rect x="219" y="140.9" width="9" height="18" fill="#ef5350"></rect>
<rect x="234" y="142" width="2" height="23.8" fill="#26a69a"></rect>
<rect x="231" y="147.9" width="9" height="10" fill="#26a69a"></rect>
<rect x="246" y="123" width="2" height="26.8" fill="#26a69a"></rect>
<rect x="243" y="123" width="9" height="23.9" fill="#26a69a"></rect>
<rect x="258" y="113.3" width="2" height="11.5" fill="#26a69a"></rect>
<rect x="255" y="120.9" width="9" height="1.7" fill="#26a69a"></rect>
<rect x="270" y="116.1" width="2" height="6.8" fill="#26a69a"></rect>
<rect x="267" y="120.2" width="9" height="1.8" fill="#26a69a"></rect>
<rect x="282" y="88.9" width="2" height="37.9" fill="#26a69a"></rect>
<rect x="279" y="90.1" width="9" height="31.7" fill="#26a69a"></rect>
<rect x="294" y="83.5" width="2" height="17.9" fill="#26a69a"></rect>
<rect x="291" y="90.6" width="9" height="1.2" fill="#26a69a"></rect>
<rect x="306" y="85" width="2" height="14" fill="#ef5350"></rect>
<rect x="303" y="92" width="9" height="7" fill="#ef5350"></rect>
<rect x="318" y="96.4" width="2" height="11.3" fill="#26a69a"></rect>
<rect x="315" y="100" width="9" height="2" fill="#26a69a"></rect>
<rect x="330" y="83.6" width="2" height="22.2" fill="#ef5350"></rect>
<rect x="327" y="93.9" width="9" height="11.9" fill="#ef5350"></rect>
<rect x="342" y="98.9" width="2" height="18.8" fill="#26a69a"></rect>
<rect x="339" y="98.9" width="9" height="5" fill="#26a69a"></rect>
<rect x="354" y="88.2" width="2" height="34.6" fill="#ef5350"></rect>
<rect x="351" y="97.7" width="9" height="20" fill="#ef5350"></rect>
<rect x="366" y="74.4" width="2" height="54.2" fill="#26a69a"></rect>
<rect x="363" y="95.1" width="9" height="22.6" fill="#26a69a"></rect>
<rect x="378" y="97.7" width="2" height="28.9" fill="#ef5350"></rect>
<rect x="375" y="97.7" width="9" height="8.7" fill="#ef5350"></rect>
<rect x="390" y="101.4" width="2" height="28.4" fill="#ef5350"></rect>
<rect x="387" y="108.1" width="9" height="10.6" fill="#ef5350"></rect>
<rect x="402" y="108.1" width="2" height="36.7" fill="#ef5350"></rect>
<rect x="399" y="117.9" width="9" height="26.3" fill="#ef5350"></rect>
<rect x="414" y="122.9" width="2" height="28.9" fill="#26a69a"></rect>
<rect x="411" y="132.8" width="9" height="10" fill="#26a69a"></rect>
<rect x="426" y="109" width="2" height="24.8" fill="#26a69a"></rect>
<rect x="423" y="120.9" width="9" height="12.9" fill="#26a69a"></rect>
<rect x="438" y="100.2" width="2" height="22.5" fill="#26a69a"></rect>
<rect x="435" y="115" width="9" height="4.7" fill="#26a69a"></rect>
<rect x="450" y="104.1" width="2" height="21.6" fill="#26a69a"></rect>
<rect x="447" y="107" width="9" height="8.7" fill="#26a69a"></rect>
<rect x="462" y="105" width="2" height="64.7" fill="#ef5350"></rect>
<rect x="459" y="106.5" width="9" height="47.3" fill="#ef5350"></rect>
<rect x="474" y="142.8" width="2" height="63.9" fill="#ef5350"></rect>
<rect x="471" y="153.2" width="9" height="39.5" fill="#ef5350"></rect>
<rect x="486" y="167.7" width="2" height="26" fill="#26a69a"></rect>
<rect x="483" y="171.7" width="9" height="22" fill="#26a69a"></rect>
<rect x="498" y="145.8" width="2" height="29.3" fill="#26a69a"></rect>
<rect x="495" y="169.1" width="9" height="3.6" fill="#26a69a"></rect>
<rect x="510" y="124.8" width="2" height="46.9" fill="#26a69a"></rect>
<rect x="507" y="131.8" width="9" height="39.3" fill="#26a69a"></rect>
<rect x="522" y="121.8" width="2" height="44.9" fill="#ef5350"></rect>
<rect x="519" y="131.8" width="9" height="30" fill="#ef5350"></rect>
<rect x="534" y="143.8" width="2" height="38.9" fill="#26a69a"></rect>
<rect x="531" y="153.8" width="9" height="9" fill="#26a69a"></rect>
<rect x="546" y="138.8" width="2" height="24.9" fill="#ef5350"></rect>
<rect x="543" y="152.8" width="9" height="10.9" fill="#ef5350"></rect>
<rect x="558" y="155.8" width="2" height="42.9" fill="#ef5350"></rect>
<rect x="555" y="162.8" width="9" height="32.9" fill="#ef5350"></rect>
<rect x="570" y="180" width="2" height="20" fill="#26a69a"></rect>
<rect x="567" y="185" width="9" height="11" fill="#26a69a"></rect>
<rect x="582" y="170" width="2" height="22" fill="#26a69a"></rect>
<rect x="579" y="176" width="9" height="10" fill="#26a69a"></rect>
<rect x="594" y="168" width="2" height="16" fill="#26a69a"></rect>
<rect x="591" y="172" width="9" height="6" fill="#26a69a"></rect>
<rect x="606" y="160" width="2" height="16" fill="#26a69a"></rect>
<rect x="603" y="166" width="9" height="7" fill="#26a69a"></rect>
<rect x="618" y="164" width="2" height="12" fill="#ef5350"></rect>
<rect x="615" y="166" width="9" height="4" fill="#ef5350"></rect>
<rect x="630" y="166" width="2" height="24" fill="#ef5350"></rect>
<rect x="627" y="170" width="9" height="16" fill="#ef5350"></rect>
<rect x="642" y="182" width="2" height="20" fill="#ef5350"></rect>
<rect x="639" y="186" width="9" height="10" fill="#ef5350"></rect>
<rect x="654" y="192" width="2" height="20" fill="#ef5350"></rect>
<rect x="651" y="196" width="9" height="12" fill="#ef5350"></rect>
<rect x="666" y="204" width="2" height="36" fill="#ef5350"></rect>
<rect x="663" y="208" width="9" height="28" fill="#ef5350"></rect>
<rect x="678" y="220" width="2" height="22" fill="#26a69a"></rect>
<rect x="675" y="226" width="9" height="10" fill="#26a69a"></rect>
<rect x="690" y="222" width="2" height="24" fill="#ef5350"></rect>
<rect x="687" y="226" width="9" height="14" fill="#ef5350"></rect>
<rect x="702" y="236" width="2" height="32" fill="#ef5350"></rect>
<rect x="699" y="240" width="9" height="22" fill="#ef5350"></rect>
<rect x="714" y="250" width="2" height="80" fill="#ef5350"></rect>
<rect x="711" y="262" width="9" height="58" fill="#ef5350"></rect>
<rect x="726" y="290" width="2" height="111.6" fill="#26a69a"></rect>
<rect x="723" y="296" width="9" height="24" fill="#26a69a"></rect>
<rect x="738" y="290" width="2" height="69.7" fill="#ef5350"></rect>
<rect x="735" y="296" width="9" height="34" fill="#ef5350"></rect>
<rect x="750" y="300" width="2" height="34" fill="#26a69a"></rect>
<rect x="747" y="310" width="9" height="20" fill="#26a69a"></rect>
<rect x="762" y="305" width="2" height="28" fill="#ef5350"></rect>
<rect x="759" y="310" width="9" height="15" fill="#ef5350"></rect>
<rect x="774" y="310" width="2" height="29.5" fill="#26a69a"></rect>
<rect x="771" y="315" width="9" height="10" fill="#26a69a"></rect>
<rect x="786" y="320" width="2" height="44.3" fill="#ef5350"></rect>
<rect x="783" y="325" width="9" height="32.2" fill="#ef5350"></rect>
<rect x="798" y="356.9" width="2" height="54.6" fill="#ef5350"></rect>
<rect x="795" y="356.9" width="9" height="46.8" fill="#ef5350"></rect>
<rect x="810" y="400.9" width="2" height="59.6" fill="#ef5350"></rect>
<rect x="807" y="403" width="9" height="39.7" fill="#ef5350"></rect>
<rect x="822" y="391" width="2" height="58.5" fill="#26a69a"></rect>
<rect x="819" y="415" width="9" height="25.6" fill="#26a69a"></rect>
<rect x="834" y="375" width="2" height="41.5" fill="#26a69a"></rect>
<rect x="831" y="377.8" width="9" height="38.7" fill="#26a69a"></rect>
<rect x="846" y="334.2" width="2" height="55.3" fill="#ef5350"></rect>
<rect x="843" y="378.9" width="9" height="3.5" fill="#ef5350"></rect>
<rect x="858" y="332.8" width="2" height="62" fill="#ef5350"></rect>
<rect x="855" y="382.1" width="9" height="12.7" fill="#ef5350"></rect>
<rect x="870" y="370.7" width="2" height="60" fill="#ef5350"></rect>
<rect x="867" y="393.1" width="9" height="30.5" fill="#ef5350"></rect>
<rect x="882" y="422.9" width="2" height="76.6" fill="#ef5350"></rect>
<rect x="879" y="422.9" width="9" height="62.8" fill="#ef5350"></rect>
<rect x="894" y="478.9" width="2" height="57.5" fill="#ef5350"></rect>
<rect x="891" y="485" width="9" height="2.4" fill="#ef5350"></rect>
<rect x="906" y="485.7" width="2" height="40" fill="#ef5350"></rect>
<rect x="903" y="487.8" width="9" height="22" fill="#ef5350"></rect>
<rect x="918" y="500.9" width="2" height="57.5" fill="#ef5350"></rect>
<rect x="915" y="508.7" width="9" height="29.1" fill="#ef5350"></rect>
<rect x="930" y="520.8" width="2" height="94.7" fill="#ef5350"></rect>
<rect x="927" y="535" width="9" height="59.8" fill="#ef5350"></rect>
<rect x="942" y="585" width="2" height="61.7" fill="#ef5350"></rect>
<rect x="939" y="593.9" width="9" height="41" fill="#ef5350"></rect>
<rect x="954" y="608" width="2" height="34.6" fill="#26a69a"></rect>
<rect x="951" y="627.9" width="9" height="7" fill="#26a69a"></rect>
<rect x="966" y="619" width="2" height="55.6" fill="#ef5350"></rect>
<rect x="963" y="625.9" width="9" height="42.1" fill="#ef5350"></rect>
<rect x="978" y="668" width="2" height="40.7" fill="#ef5350"></rect>
<rect x="975" y="668" width="9" height="34.9" fill="#ef5350"></rect>
<rect x="990" y="649" width="2" height="52.2" fill="#26a69a"></rect>
<rect x="987" y="653.9" width="9" height="47.3" fill="#26a69a"></rect>
<rect x="1002" y="636.9" width="2" height="41.8" fill="#26a69a"></rect>
<rect x="999" y="653.6" width="9" height="1.4" fill="#26a69a"></rect>
<rect x="1014" y="603.2" width="2" height="49" fill="#26a69a"></rect>
<rect x="1011" y="608.9" width="9" height="43.3" fill="#26a69a"></rect>
<rect x="1026" y="609" width="2" height="12.9" fill="#ef5350"></rect>
<rect x="1023" y="609.8" width="9" height="12.1" fill="#ef5350"></rect>
<rect x="1038" y="591.6" width="2" height="49" fill="#26a69a"></rect>
<rect x="1035" y="594.8" width="9" height="27.1" fill="#26a69a"></rect>
<rect x="1050" y="590.8" width="2" height="72" fill="#ef5350"></rect>
<rect x="1047" y="595.9" width="9" height="64" fill="#ef5350"></rect>
<rect x="1062" y="627" width="2" height="48.8" fill="#ef5350"></rect>
<rect x="1059" y="659.9" width="9" height="15.9" fill="#ef5350"></rect>
<rect x="1074" y="629" width="2" height="60.6" fill="#26a69a"></rect>
<rect x="1071" y="651" width="9" height="23.9" fill="#26a69a"></rect>
<rect x="1086" y="650" width="2" height="51.7" fill="#ef5350"></rect>
<rect x="1083" y="651.9" width="9" height="48.4" fill="#ef5350"></rect>
<rect x="1098" y="694" width="2" height="58.8" fill="#ef5350"></rect>
<rect x="1095" y="698.9" width="9" height="41.1" fill="#ef5350"></rect>
<rect x="1110" y="725" width="2" height="28.6" fill="#26a69a"></rect>
<rect x="1107" y="730" width="9" height="12" fill="#26a69a"></rect>
<rect x="1122" y="713" width="2" height="36.9" fill="#ef5350"></rect>
<rect x="1119" y="732" width="9" height="13.8" fill="#ef5350"></rect>
<rect x="1134" y="721.3" width="2" height="40.4" fill="#26a69a"></rect>
<rect x="1131" y="734.9" width="9" height="10.9" fill="#26a69a"></rect>
<rect x="1146" y="719.9" width="2" height="46.1" fill="#ef5350"></rect>
<rect x="1143" y="734.9" width="9" height="16.1" fill="#ef5350"></rect>
<rect x="1158" y="685.9" width="2" height="76.9" fill="#26a69a"></rect>
<rect x="1155" y="709.8" width="9" height="41.2" fill="#26a69a"></rect>
<rect x="1170" y="709" width="2" height="73.7" fill="#ef5350"></rect>
<rect x="1167" y="709" width="9" height="33.5" fill="#ef5350"></rect>
<rect x="1182" y="699" width="2" height="69.5" fill="#ef5350"></rect>
<rect x="1179" y="743.1" width="9" height="14.5" fill="#ef5350"></rect>
<rect x="1194" y="713.3" width="2" height="63.3" fill="#26a69a"></rect>
<rect x="1191" y="720.9" width="9" height="37.6" fill="#26a69a"></rect>
<rect x="1206" y="697.9" width="2" height="67.6" fill="#ef5350"></rect>
<rect x="1203" y="724" width="9" height="23.6" fill="#ef5350"></rect>
<rect x="1218" y="741.2" width="2" height="31.5" fill="#ef5350"></rect>
<rect x="1215" y="745.9" width="9" height="15.8" fill="#ef5350"></rect>
<rect x="1230" y="750" width="2" height="37.7" fill="#ef5350"></rect>
<rect x="1227" y="761" width="9" height="23.5" fill="#ef5350"></rect>
<rect x="1242" y="775" width="2" height="22.7" fill="#ef5350"></rect>
<rect x="1239" y="783" width="9" height="14.7" fill="#ef5350"></rect>
<rect x="1254" y="759" width="2" height="47.6" fill="#26a69a"></rect>
<rect x="1251" y="761.9" width="9" height="36.8" fill="#26a69a"></rect>
<rect x="1266" y="735" width="2" height="29.6" fill="#26a69a"></rect>
<rect x="1263" y="735.9" width="9" height="26.8" fill="#26a69a"></rect>
<rect x="1278" y="720" width="2" height="22.5" fill="#26a69a"></rect>
<rect x="1275" y="736.7" width="9" height="1.2" fill="#26a69a"></rect>
<rect x="1290" y="720" width="2" height="22.5" fill="#26a69a"></rect>
<rect x="1287" y="724" width="9" height="14.8" fill="#26a69a"></rect>
<rect x="1302" y="712" width="2" height="14.5" fill="#26a69a"></rect>
<rect x="1299" y="718" width="9" height="6.6" fill="#26a69a"></rect>
<rect x="1314" y="700" width="2" height="18.6" fill="#26a69a"></rect>
<rect x="1311" y="711" width="9" height="7.6" fill="#26a69a"></rect>
<rect x="1326" y="707.3" width="2" height="20.2" fill="#ef5350"></rect>
<rect x="1323" y="711" width="9" height="13.6" fill="#ef5350"></rect>
<rect x="1338" y="717" width="2" height="19.5" fill="#ef5350"></rect>
<rect x="1335" y="724" width="9" height="12.5" fill="#ef5350"></rect>
<rect x="1350" y="735" width="2" height="17.5" fill="#ef5350"></rect>
<rect x="1347" y="736" width="9" height="16.5" fill="#ef5350"></rect>
<rect x="1362" y="744" width="2" height="8.5" fill="#26a69a"></rect>
<rect x="1359" y="747" width="9" height="3.6" fill="#26a69a"></rect>
<rect x="1374" y="736.9" width="2" height="19.8" fill="#26a69a"></rect>
<rect x="1371" y="738" width="9" height="8.7" fill="#26a69a"></rect>
<rect x="1386" y="719.4" width="2" height="24.1" fill="#26a69a"></rect>
<rect x="1383" y="722" width="9" height="18.6" fill="#26a69a"></rect>
<rect x="1398" y="708.3" width="2" height="13.5" fill="#26a69a"></rect>
<rect x="1395" y="713" width="9" height="8" fill="#26a69a"></rect>
<rect x="1410" y="707" width="2" height="13.5" fill="#ef5350"></rect>
<rect x="1407" y="712" width="9" height="4.7" fill="#ef5350"></rect>
<rect x="1422" y="717" width="2" height="16.9" fill="#ef5350"></rect>
<rect x="1419" y="719" width="9" height="11" fill="#ef5350"></rect>
<rect x="1434" y="720" width="2" height="14.6" fill="#26a69a"></rect>
<rect x="1431" y="728" width="9" height="2" fill="#26a69a"></rect>
<rect x="1446" y="724.8" width="2" height="15.9" fill="#ef5350"></rect>
<rect x="1443" y="726" width="9" height="12.8" fill="#ef5350"></rect>
<rect x="1458" y="726" width="2" height="17.7" fill="#26a69a"></rect>
<rect x="1455" y="729.4" width="9" height="9.4" fill="#26a69a"></rect>
<rect x="1470" y="728" width="2" height="57.9" fill="#ef5350"></rect>
<rect x="1467" y="729" width="9" height="28.6" fill="#ef5350"></rect>
<rect x="1482" y="715" width="2" height="42.6" fill="#26a69a"></rect>
<rect x="1479" y="721.8" width="9" height="35.8" fill="#26a69a"></rect>
<!-- dashed lines -->
<path d="M343.500 44V837" stroke="#8d96ab" stroke-width="1" stroke-dasharray="10 8" fill="none"></path>
<path d="M1495.500 44V837" stroke="#8d96ab" stroke-width="1" stroke-dasharray="10 8" fill="none"></path>
</g>
</svg>

<!-- flags -->
<svg style="left:1146.700px;top:809.800px" width="24.500" height="24.500" viewBox="0 0 24.500 24.500"><defs><clipPath id="fu"><circle cx="12.250" cy="12.250" r="11.500"></circle></clipPath></defs><circle cx="12.250" cy="12.250" r="12.250" fill="#f2403f"></circle><g clip-path="url(#fu)"><rect width="25" height="25" fill="#f4f6f8"></rect><rect y="0" width="25" height="4.700" fill="#b5173a"></rect><rect y="9.600" width="25" height="4.800" fill="#b5173a"></rect><rect y="19" width="25" height="6" fill="#b5173a"></rect><rect width="15" height="14.500" fill="#1f3a6e"></rect><g fill="#fff"><path d="M3.500 2.300l.5 1.100 1.100.1-.8.800.2 1.200-1-.6-1 .6.200-1.200-.8-.8 1.100-.1zM8 2.300l.5 1.100 1.100.1-.8.800.2 1.200-1-.6-1 .6.200-1.200-.8-.8 1.100-.1zM12.300 2.300l.5 1.100 1.100.1-.8.800.2 1.200-1-.6-1 .6.200-1.200-.8-.8 1.100-.1z"></path><path d="M3.500 6.500l.5 1.100 1.100.1-.8.800.2 1.200-1-.6-1 .6.200-1.200-.8-.8 1.100-.1zM8 6.500l.5 1.100 1.100.1-.8.800.2 1.200-1-.6-1 .6.200-1.200-.8-.8 1.100-.1zM12.300 6.500l.5 1.100 1.100.1-.8.800.2 1.200-1-.6-1 .6.200-1.200-.8-.8 1.100-.1z"></path><path d="M3.500 10.500l.5 1.100 1.100.1-.8.800.2 1.200-1-.6-1 .6.200-1.200-.8-.8 1.100-.1zM8 10.500l.5 1.100 1.100.1-.8.800.2 1.200-1-.6-1 .6.200-1.200-.8-.8 1.100-.1zM12.300 10.500l.5 1.100 1.100.1-.8.800.2 1.200-1-.6-1 .6.200-1.200-.8-.8 1.100-.1z"></path></g></g></svg>
<svg style="left:1602.400px;top:809.100px" width="25" height="25.500" viewBox="0 0 25 25.500"><defs><clipPath id="fa"><ellipse cx="12.500" cy="12.750" rx="11.700" ry="11.950"></ellipse></clipPath></defs><ellipse cx="12.500" cy="12.750" rx="12.500" ry="12.750" fill="#f2403f"></ellipse><g clip-path="url(#fa)"><rect width="25" height="26" fill="#0b1f6b"></rect><rect x="0" y="0" width="12.400" height="12.900" fill="#d4082a"></rect><rect x="4.700" y="4.900" width="7.700" height="8" fill="#fff"></rect><path d="M5.600 7.600L11.400 12.900H5.600z" fill="#0b1f6b"></path><path d="M5.800 5.600L12.400 11.400" stroke="#d4082a" stroke-width="1.100" fill="none"></path><g fill="#fff"><path d="M7.100 15.800l.8 1.600 1.700.1-1.300 1.100.5 1.700-1.700-.9-1.700.9.500-1.700-1.300-1.100 1.700-.1z"></path><circle cx="18" cy="7.500" r="1.050"></circle><circle cx="20.600" cy="10.700" r="1.050"></circle><circle cx="14.900" cy="11.800" r="1.050"></circle><circle cx="18.700" cy="14.200" r=".85"></circle><circle cx="18" cy="19.100" r="1"></circle></g></g></svg>

<!-- Max / Min labels -->
<div class="abs" style="left:254.500px;top:65px;width:35px;height:17.500px;background:#b19cd9;border-radius:4px 0 0 4px"></div>
<div class="abs" style="left:290.500px;top:65px;width:60.500px;height:17.500px;background:#b19cd9;border-radius:0 4px 4px 0"></div>
<div class="t" style="left:261px;top:68px;font-size:12px;color:#fff;-webkit-text-stroke:.35px #fff">Max</div>
<div class="t" style="left:299px;top:68px;font-size:12px;color:#fff;-webkit-text-stroke:.35px #fff">0.69417</div>
<div class="abs" style="left:351px;top:73px;width:16px;height:1.500px;background:#d9cdee"></div>
<div class="abs" style="left:1143px;top:798px;width:35px;height:18px;background:#b19cd9;border-radius:4px 0 0 4px"></div>
<div class="abs" style="left:1179px;top:798px;width:60px;height:18px;background:#b19cd9;border-radius:0 4px 4px 0"></div>
<div class="t" style="left:1150.500px;top:801px;font-size:12px;color:#fff;-webkit-text-stroke:.35px #fff">Min</div>
<div class="t" style="left:1187px;top:801px;font-size:12px;color:#fff;-webkit-text-stroke:.35px #fff">0.68587</div>
<div class="abs" style="left:1242px;top:806px;width:12.500px;height:1.500px;background:#d4c6ec"></div>

<!-- info row -->
<div class="abs" style="left:47px;top:84px;width:428px;height:23px;background:rgba(255,255,255,.84)"></div>
<div class="t" style="left:53px;top:90px;font-size:12px;color:#555">Date:</div>
<div class="t" style="left:87px;top:90px;font-size:12px;color:#2b7de9;letter-spacing:.22px">2020-01-07 23:45:00</div>
<div class="t" style="left:207.500px;top:90px;font-size:12px;color:#555">O:</div>
<div class="t" style="left:221px;top:90px;font-size:12px;color:#2b7de9;letter-spacing:.12px">0.68644</div>
<div class="t" style="left:274.500px;top:90px;font-size:12px;color:#555">H:</div>
<div class="t" style="left:288.500px;top:90px;font-size:12px;color:#2b7de9;letter-spacing:.12px">0.68691</div>
<div class="t" style="left:343px;top:90px;font-size:12px;color:#555">L:</div>
<div class="t" style="left:355.500px;top:90px;font-size:12px;color:#2b7de9;letter-spacing:.12px">0.68643</div>
<div class="t" style="left:410.500px;top:90px;font-size:12px;color:#555">C:</div>
<div class="t" style="left:423.500px;top:90px;font-size:12px;color:#2b7de9;letter-spacing:.12px">0.68683</div>

<!-- symbol header -->
<div class="abs" style="left:47.300px;top:47.300px;width:68.200px;height:25px;background:#fff;border:1px solid #e1e4ea;border-radius:4px"></div>
<div class="t" style="left:52px;top:53px;font-size:14px;color:#333">AUDUSD</div>
<div class="abs" style="left:118.500px;top:47.300px;width:50.300px;height:25px;background:#fff;border:1px solid #e1e4ea;border-radius:4px"></div>
<div class="t" style="left:123.500px;top:53px;font-size:14px;color:#333">15m</div>
<svg style="left:152px;top:57px" width="7" height="6" viewBox="0 0 7 6"><path d="M1 1.500L3.500 4L6 1.500" fill="none" stroke="#333" stroke-width="1.300"></path></svg>
<div class="abs" style="left:178.300px;top:48.200px;width:83.700px;height:23.800px;background:#f45b5b;border-radius:4px 0 0 4px"></div>
<div class="t" style="left:190.500px;top:54px;font-size:12px;color:#fff;font-weight:bold">0.6868<span style="font-size:9px;position:relative;top:-4px;left:1px">3</span></div>
<svg style="left:242px;top:54px" width="14" height="12" viewBox="0 0 14 12"><path d="M1 2l3.500 3.500 2-2 5 5M8.500 9h3.500v-3.500" fill="none" stroke="#fff" stroke-width="1.400" stroke-linejoin="round" stroke-linecap="round"></path></svg>
<div class="abs" style="left:262px;top:48px;width:35px;height:24px;background:#fff"></div>
<div class="t" style="left:272.500px;top:54px;font-size:12px;color:#333">24</div>
<div class="abs" style="left:296.500px;top:48.200px;width:84px;height:23.800px;background:#1d6fe0;border-radius:0 4px 4px 0"></div>
<div class="t" style="left:308.500px;top:54px;font-size:12px;color:#fff;font-weight:bold">0.6870<span style="font-size:9px;position:relative;top:-4px;left:1px">7</span></div>
<svg style="left:360px;top:54px" width="14" height="12" viewBox="0 0 14 12"><path d="M1 10l3.500-3.500 2 2 5-5M8.500 3h3.500v3.500" fill="none" stroke="#fff" stroke-width="1.400" stroke-linejoin="round" stroke-linecap="round"></path></svg>

<!-- playback widget -->
<div class="abs" style="left:477.500px;top:57px;width:348.500px;height:39.600px;background:#fff;border-radius:7px;box-shadow:0 1px 5px rgba(60,70,100,.18);border:1px solid #eef0f4"></div>
<svg style="left:484px;top:70px" width="8" height="16" viewBox="0 0 8 16"><g fill="#8f98ab"><rect x="1" y="2.100" width="2" height="2"></rect><rect x="5" y="2.100" width="2" height="2"></rect><rect x="1" y="7" width="2" height="2"></rect><rect x="5" y="7" width="2" height="2"></rect><rect x="1" y="12.100" width="2" height="2"></rect><rect x="5" y="12.100" width="2" height="2"></rect></g></svg>
<div class="abs" style="left:495.200px;top:57.800px;width:37.700px;height:38.100px;background:#d4e2f9;border-radius:7px"></div>
<div class="abs" style="left:497.900px;top:60.900px;width:32.300px;height:32.300px;background:#1d6fe0;border-radius:4px"></div>
<svg style="left:506px;top:67px" width="18" height="20" viewBox="0 0 18 20"><path d="M2.500 2.500L16 10L2.500 17.500z" fill="#fff" stroke="#fff" stroke-width="1.500" stroke-linejoin="round"></path></svg>
<div class="t" style="left:541.500px;top:63px;font-size:12px;color:#444">Speed</div>
<div class="abs" style="left:542px;top:85px;width:30px;height:5px;background:#3db39e;border-radius:2px"></div>
<svg style="left:804.300px;top:66px" width="12" height="22" viewBox="0 0 12 22"><path d="M2 2.800h5.500a1.500 1.500 0 0 1 1.500 1.500v10.600a1.500 1.500 0 0 1 -1.500 1.500h-5.500M3 9.600h6" fill="none" stroke="#1f2a44" stroke-width="1.400"></path></svg>

<!-- price axis -->
<div class="abs" style="left:1855px;top:44px;width:1px;height:811px;background:#222"></div>
<div class="abs" style="left:44px;top:837px;width:1864px;height:2px;background:#888"></div>
<div class="pl" style="top:48px">0.69440</div>
<div class="pl" style="top:83px">0.69400</div>
<div class="pl" style="top:118px">0.69360</div>
<div class="pl" style="top:154px">0.69320</div>
<div class="pl" style="top:189px">0.69280</div>
<div class="pl" style="top:224px">0.69240</div>
<div class="pl" style="top:260px">0.69200</div>
<div class="pl" style="top:295px">0.69160</div>
<div class="pl" style="top:330px">0.69120</div>
<div class="pl" style="top:366px">0.69080</div>
<div class="pl" style="top:401px">0.69040</div>
<div class="pl" style="top:436px">0.69000</div>
<div class="pl" style="top:471px">0.68960</div>
<div class="pl" style="top:507px">0.68920</div>
<div class="pl" style="top:542px">0.68880</div>
<div class="pl" style="top:577px">0.68840</div>
<div class="pl" style="top:613px">0.68800</div>
<div class="pl" style="top:648px">0.68760</div>
<div class="pl" style="top:684px">0.68720</div>
<div class="pl" style="top:719px">0.68680</div>
<div class="pl" style="top:754px">0.68640</div>
<div class="pl" style="top:790px">0.68600</div>
<div class="pl" style="top:825px">0.68560</div>
<div class="tl" style="left:85px;">19:15</div>
<div style="position:absolute;left:114px;top:837px;width:2px;height:2px;background:#444"></div>
<div class="tl" style="left:313px;font-weight:bold;color:#222;">7</div>
<div style="position:absolute;left:342px;top:837px;width:2px;height:2px;background:#444"></div>
<div class="tl" style="left:445px;">02:45</div>
<div style="position:absolute;left:474px;top:837px;width:2px;height:2px;background:#444"></div>
<div class="tl" style="left:577px;">05:30</div>
<div style="position:absolute;left:606px;top:837px;width:2px;height:2px;background:#444"></div>
<div class="tl" style="left:709px;">08:15</div>
<div style="position:absolute;left:738px;top:837px;width:2px;height:2px;background:#444"></div>
<div class="tl" style="left:841px;">11:00</div>
<div style="position:absolute;left:870px;top:837px;width:2px;height:2px;background:#444"></div>
<div class="tl" style="left:973px;">13:45</div>
<div style="position:absolute;left:1002px;top:837px;width:2px;height:2px;background:#444"></div>
<div class="tl" style="left:1105px;">16:30</div>
<div style="position:absolute;left:1134px;top:837px;width:2px;height:2px;background:#444"></div>
<div class="tl" style="left:1237px;">19:15</div>
<div style="position:absolute;left:1266px;top:837px;width:2px;height:2px;background:#444"></div>
<div class="tl" style="left:1465px;font-weight:bold;color:#222;">8</div>
<div style="position:absolute;left:1494px;top:837px;width:2px;height:2px;background:#444"></div>
<div class="tl" style="left:1597px;">02:45</div>
<div style="position:absolute;left:1626px;top:837px;width:2px;height:2px;background:#444"></div>
<div class="tl" style="left:1729px;">05:30</div>
<div style="position:absolute;left:1758px;top:837px;width:2px;height:2px;background:#444"></div>
<div class="t" style="top: 842px; font-size: 12px; color: rgb(85, 85, 85); left: 1863px; transform: scaleX(0.9702); transform-origin: 0px 0px;">UTC+2</div><div style="position:absolute;left:1890px;top:837px;width:2px;height:2px;background:#444"></div>
<!-- price tags -->
<svg style="left:1848px;top:693.500px" width="60" height="15" viewBox="0 0 60 15"><path d="M0 7.500L7.500 0H60V15H7.500z" fill="#f6b042"></path></svg>
<div class="t" style="left:1859.500px;top:695.800px;font-size:12.3px;color:#fff;font-weight:bold">0.68707</div>
<svg style="left:1848px;top:714.500px" width="60" height="15" viewBox="0 0 60 15"><path d="M0 7.500L7.500 0H60V15H7.500z" fill="#2b7de9"></path></svg>
<div class="t" style="left:1859.500px;top:716.800px;font-size:12.3px;color:#fff;font-weight:bold">0.68683</div>
<!-- auto button -->
<div class="abs" style="left:1826px;top:805.500px;width:25px;height:25px;border:1px solid #a9c8f5;border-radius:4px;background:#fff"></div>
<svg style="left:1830px;top:809.500px" width="17" height="17" viewBox="0 0 17 17"><path d="M2 5.500v-3.500h3.500M11.500 2h3.500v3.500M15 11.500v3.500h-3.500M5.500 15h-3.500v-3.500M5.800 12l2.700-7 2.700 7M6.700 9.800h3.600" fill="none" stroke="#7fb0f0" stroke-width="1.200"></path></svg>
<!-- ================= BOTTOM BAR ================= -->
<div id="bottom"></div>
<div class="t" style="left:61px;top:875px;font-size:14px;color:#2b7de9">Open Positions</div>
<div class="abs" style="left:160.500px;top:874.500px;width:15px;height:15px;background:#f0f2f6;border-radius:3px"></div>
<div class="t" style="left:165px;top:876px;font-size:12px;color:#333">0</div>
<div class="dv" style="left:188px;top:870px;height:24px"></div>
<div class="t" style="left:201.500px;top:875px;font-size:14px;color:#222">Pending Orders</div>
<div class="abs" style="left:303px;top:874.500px;width:16px;height:15px;background:#f0f2f6;border-radius:3px"></div>
<div class="t" style="left:308px;top:876px;font-size:12px;color:#333">0</div>
<div class="dv" style="left:331px;top:870px;height:24px"></div>
<div class="t" style="left:344px;top:875px;font-size:14px;color:#222">History</div>
<div class="dv" style="left:401px;top:870px;height:24px"></div>
<svg style="left:420px;top:879px" width="10" height="7" viewBox="0 0 10 7"><path d="M1 5.500L5 1.500L9 5.500" fill="none" stroke="#222" stroke-width="1.300"></path></svg>

<div class="abs" style="left:965px;top:866px;width:672px;height:31px;background:#f3f4f8;border-radius:4px"></div>
<svg style="left:976px;top:873px" width="18" height="18" viewBox="0 0 18 18"><circle cx="9" cy="9" r="7.800" fill="none" stroke="#3d4a63" stroke-width="1.200"></circle><path d="M9 4.500v4.800l3 1.800" fill="none" stroke="#3d4a63" stroke-width="1.200" stroke-linecap="round"></path></svg>
<div class="t" style="top: 875px; font-size: 14px; color: rgb(34, 34, 34); -webkit-text-stroke: 0.55px rgb(34, 34, 34); left: 1005.2px; transform: scaleX(1.0758); transform-origin: 0px 0px;">Time:</div><div class="t" style="top: 875px; font-size: 14px; color: rgb(34, 34, 34); left: 1045.9px; transform: scaleX(1.0186); transform-origin: 0px 0px;">(вт)</div><div class="t" style="top: 875px; font-size: 14px; color: rgb(34, 34, 34); left: 1072.3px; transform: scaleX(1.0208); transform-origin: 0px 0px;">2020-01-07 23:59:59</div>
<div class="dv" style="left:1221px;top:870px;height:24px"></div>
<svg style="left:1240px;top:872px" width="21" height="20" viewBox="0 0 21 20"><path d="M18.500 6v-2.500a1.500 1.500 0 0 0 -1.500-1.500h-13a2 2 0 0 0 -2 2v12a2 2 0 0 0 2 2h13a1.500 1.500 0 0 0 1.500-1.500v-2.500M19 6.500h-6.500a3.500 3.500 0 0 0 0 7h6.500z" fill="none" stroke="#3d4a63" stroke-width="1.200" stroke-linejoin="round"></path><circle cx="13" cy="10" r="1.200" fill="none" stroke="#3d4a63" stroke-width="1"></circle></svg>
<div class="t" style="top: 875px; font-size: 14px; color: rgb(34, 34, 34); -webkit-text-stroke: 0.55px rgb(34, 34, 34); left: 1269.9px; transform: scaleX(1.0609); transform-origin: 0px 0px;">Balance:</div><div class="t" style="top: 875px; font-size: 14px; color: rgb(34, 34, 34); left: 1330.7px; transform: scaleX(1.0067); transform-origin: 0px 0px;">10000</div>
<div class="dv" style="left:1386px;top:870px;height:24px"></div>
<svg style="left:1404px;top:872px" width="22" height="20" viewBox="0 0 22 20"><path d="M2.500 10.300L18.700 4.600M10.600 1.200v6.200M5.100 9.300l-2.800 5.200h6zM2.300 14.500a3 4.200 0 0 0 6 0M2.600 16.300h5.400M16.100 5.100l-2.800 5.700h5.900zM13.300 10.800a2.950 3.700 0 0 0 5.900 0M13.600 12.400h5.300" fill="none" stroke="#3d4a63" stroke-width="1.100" stroke-linejoin="round" stroke-linecap="round"></path></svg>
<div class="t" style="top: 875px; font-size: 14px; color: rgb(34, 34, 34); -webkit-text-stroke: 0.55px rgb(34, 34, 34); left: 1434.3px; transform: scaleX(1.0347); transform-origin: 0px 0px;">Equity:</div><div class="t" style="top: 875px; font-size: 14px; color: rgb(34, 34, 34); left: 1483.3px; transform: scaleX(1.0144); transform-origin: 0px 0px;">10000</div>
<div class="dv" style="left:1538px;top:870px;height:24px"></div>
<svg style="left:1556px;top:873px" width="23" height="18" viewBox="0 0 23 18"><path d="M1.100 11.100h20M3.700 11.100l3.200-4.400 3.100 4.400 3.200 6.100 2.600-6.100 4-8.400" fill="none" stroke="#3d4a63" stroke-width="1.100" stroke-linejoin="round" stroke-linecap="round"></path></svg>
<div class="t" style="top: 875px; font-size: 14px; color: rgb(34, 34, 34); -webkit-text-stroke: 0.55px rgb(34, 34, 34); left: 1587.2px; transform: scaleX(0.9915); transform-origin: 0px 0px;">P&amp;L:</div><div class="t" style="top: 875px; font-size: 14px; color: rgb(34, 34, 34); left: 1620.8px; transform: scaleX(1.0517); transform-origin: 0px 0px;">0</div>
<svg style="left:1651px;top:872px" width="20" height="20" viewBox="0 0 20 20"><path d="M9.500 3h-4.800a2.500 2.500 0 0 0 -2.500 2.500v10.700a2.500 2.500 0 0 0 2.500 2.500h7.800l5.400-5.400v-7.800a2.500 2.500 0 0 0 -2.500-2.500h-1.200M12.500 18.500v-2.600a2.700 2.700 0 0 1 2.700-2.700h2.600M8.300 6.500l2.200-2.200M10 2.600l2.200-1.400 1.600 1.600-1.400 2.200z" fill="none" stroke="#3d4a63" stroke-width="1.200" stroke-linejoin="round" stroke-linecap="round"></path></svg>
<div class="dv" style="left:1685px;top:870px;height:24px"></div>
<svg style="left:1700px;top:872px" width="21" height="21" viewBox="0 0 21 21"><path d="M10.500 18.700h-6.900a2.500 2.500 0 0 1 -2.500-2.500v-10.700a2.500 2.500 0 0 1 2.500-2.500h13a2.500 2.500 0 0 1 2.500 2.500v5M1.100 7.400h18M5.500 1.200v3.600M14.400 1.200v3.600" fill="none" stroke="#3d4a63" stroke-width="1.200" stroke-linejoin="round" stroke-linecap="round"></path><circle cx="14.500" cy="14.300" r="5.200" fill="#fff" stroke="#3d4a63" stroke-width="1.100"></circle><path d="M13 10.500c1 .8 2 .6 2.200 1.600s-1.600 1-1.400 2.200 1.600 1 1.400 2.400-1 1.500-1 2.400M17.500 12.500c-.8.600-.6 1.600.2 2s1 1.200.6 2.200" fill="none" stroke="#3d4a63" stroke-width=".9"></path></svg>
<div class="dv" style="left:1734px;top:870px;height:24px"></div>
<svg style="left:1749px;top:872px" width="20" height="20" viewBox="0 0 20 20"><path d="M2.300 3.700a2.500 2.500 0 0 1 2.500-2.500h8.200l4.700 4.700v10.300a2.500 2.500 0 0 1 -2.500 2.500h-10.400a2.500 2.500 0 0 1 -2.500-2.500zM12.600 1.400c0 2.600 2 4.600 4.900 4.700M6.300 8.500h7.700M6.300 11.400h7.700M6.300 14.300h7.700" fill="none" stroke="#3d4a63" stroke-width="1.200" stroke-linejoin="round" stroke-linecap="round"></path></svg>
<div class="abs" style="left:1783.500px;top:864px;width:119.500px;height:35.500px;background:#1d6fe0;border-radius:7px"></div>
<svg style="left:1800px;top:872px" width="20" height="20" viewBox="0 0 20 20"><path d="M8.500 3.200a7.800 7.800 0 1 0 8.500 8.500" fill="none" stroke="#fff" stroke-width="1.600" stroke-linecap="round"></path><path d="M11 1.500a7.500 7.500 0 0 1 7.500 7.500h-7.500z" fill="none" stroke="#fff" stroke-width="1.600" stroke-linejoin="round"></path></svg>
<div class="t" style="top: 875px; font-size: 14.3px; color: rgb(255, 255, 255); -webkit-text-stroke: 0.6px rgb(255, 255, 255); left: 1829.99px; transform: scaleX(1.0107); transform-origin: 0px 0px;">Analytics</div>

<!-- ================= MENU ================= -->
<div class="abs" style="left:560px;top:35px;width:249.200px;height:302px;background:#fff;border-radius:8px;box-shadow:0 4px 9px rgba(40,50,80,.13),0 0 1px rgba(40,50,80,.22)"></div>
<div class="t" style="top: 46.9px; font-size: 9.8px; color: rgb(155, 160, 184); left: 572.81px; transform: scaleX(0.9876); transform-origin: 0px 0px;">INDICATORS</div>
<div class="abs" style="left:564.800px;top:64px;width:240px;height:33.500px;border:1px solid #c9ced9;border-radius:7px;background:#fff"></div>
<div class="t" style="left:578px;top:74.4px;font-size:13.6px;color:#c3c7d1">Search</div>
<svg style="left:766px;top:71px" width="20" height="20" viewBox="0 0 20 20"><circle cx="8" cy="8" r="6.300" fill="none" stroke="#1f2a44" stroke-width="1.300"></circle><path d="M12.800 12.800l1.700 1.700" stroke="#1f2a44" stroke-width="1.300" fill="none"></path><rect x="13.200" y="14.400" width="5.500" height="2.800" rx="1.400" transform="rotate(45 15.950 15.800)" fill="none" stroke="#1f2a44" stroke-width="1.200"></rect></svg>

<!-- Trend -->
<svg style="left:575px;top:110px" width="20" height="20" viewBox="0 0 20 20"><path class="ic" stroke-width="1.100" d="M1.500 7.500h3.500v5h-3.500zM3.200 5v2.500M3.200 12.500v2M7.500 4.500h3.500v6h-3.500zM9.200 2v2.500M9.200 10.500v3M13.500 3.500h3.500v9h-3.500zM15.200 1v2.500M15.200 12.500v5M1 16.500l17.500-8"></path></svg>
<div class="mi" style="top:112px;font-size:13.5px">Trend</div>
<svg class="chev" style="top:115px" width="8" height="10" viewBox="0 0 8 10"><path d="M2.200 1.500L6 5L2.200 8.500" fill="none" stroke="#1f2a44" stroke-width="1.300"></path></svg>
<!-- Volume -->
<svg style="left:575px;top:150px" width="20" height="20" viewBox="0 0 20 20"><path class="ic" stroke-width="1.100" d="M1.400 9.900h7.800v8.400h-7.800zM9.200 18.300v-16.900h4.800v16.900zM14 4.300h3.400v14h-3.400"></path></svg>
<div class="mi" style="top:152px">Volume</div>
<svg class="chev" style="top:155px" width="8" height="10" viewBox="0 0 8 10"><path d="M2.200 1.500L6 5L2.200 8.500" fill="none" stroke="#1f2a44" stroke-width="1.300"></path></svg>
<!-- Oscillators -->
<svg style="left:575px;top:190px" width="20" height="20" viewBox="0 0 20 20"><path class="ic" stroke-width="1.100" d="M1.500 11.500h4.500v7h-4.500zM6 7.500h4.500v5.500h-4.500zM10.500 7.500h3.500M14 2h4.500v8h-4.500zM10.500 7.500v-1.500h3.500"></path></svg>
<div class="mi" style="top:192px">Oscillators</div>
<svg class="chev" style="top:195px" width="8" height="10" viewBox="0 0 8 10"><path d="M2.200 1.500L6 5L2.200 8.500" fill="none" stroke="#1f2a44" stroke-width="1.300"></path></svg>
<!-- Adaptive -->
<svg style="left:575px;top:230px" width="20" height="20" viewBox="0 0 20 20"><path class="ic" stroke-width="1.100" d="M2 5.500h3.500v6h-3.500zM3.700 2.500v3M3.700 11.500v3M8 7.500h3.500v8h-3.500zM9.700 3.500v4M9.700 15.500v3.500M14 5.500h3.500v7h-3.500zM15.700 2.500v3M15.700 12.500v3M.5 6.500h1.500M5.500 8.500h2.500M11.500 9.500h2.500M17.500 7h1.500"></path></svg>
<div class="mi" style="top:232px">Adaptive</div>
<svg class="chev" style="top:235px" width="8" height="10" viewBox="0 0 8 10"><path d="M2.200 1.500L6 5L2.200 8.500" fill="none" stroke="#1f2a44" stroke-width="1.300"></path></svg>
<!-- My indicators -->
<div class="abs" style="left:565px;top:262.500px;width:240px;height:35px;background:#f3f4f8;border-radius:4px"></div>
<svg style="left:575px;top:270px" width="20" height="20" viewBox="0 0 20 20"><path class="ic" stroke-width="1.100" d="M1.500 8h16.500l-1 9a2 2 0 0 1 -2 1.500h-10.500a2 2 0 0 1 -2-1.500zM3 8v-4.500a1.500 1.500 0 0 1 1.500-1.500h4l1.500 1.500M5.500 5.500c2-2.500 7-3.500 9.500-2.500s2.500 2.500 2.500 5M8 6c2-1.500 5-2 7-1"></path></svg>
<div class="mi" style="top:272px">My Indicators</div>
<svg class="chev" style="top:275px" width="8" height="10" viewBox="0 0 8 10"><path d="M2.200 1.500L6 5L2.200 8.500" fill="none" stroke="#1f2a44" stroke-width="1.300"></path></svg>
<!-- upload -->
<div class="abs" style="left:565.500px;top:302.500px;width:239px;height:31px;border:1px solid #c9ced9;border-radius:7px;background:#fff"></div>
<div class="t" style="left:611.500px;top:311px;font-size:14px;color:#1f2a44">Upload indicator</div>
<div class="abs" style="left:721px;top:310px;width:38px;height:15.500px;background:#e8971e;border-radius:8px"></div>
<div class="t" style="left:729.500px;top:313px;font-size:9.500px;color:#fff;font-weight:bold">Beta</div>

<!-- ================= ARROW ================= -->
<svg style="left:0;top:0" width="1912" height="902" viewBox="0 0 1912 902"><path d="M471 404L561 303" stroke="#7f0020" stroke-width="4.200" stroke-linecap="round" fill="none"></path><path d="M569 293.300L549.800 301.600L558.500 304.500L562.300 312.400z" fill="#7f0020"></path></svg>


</body></html>
